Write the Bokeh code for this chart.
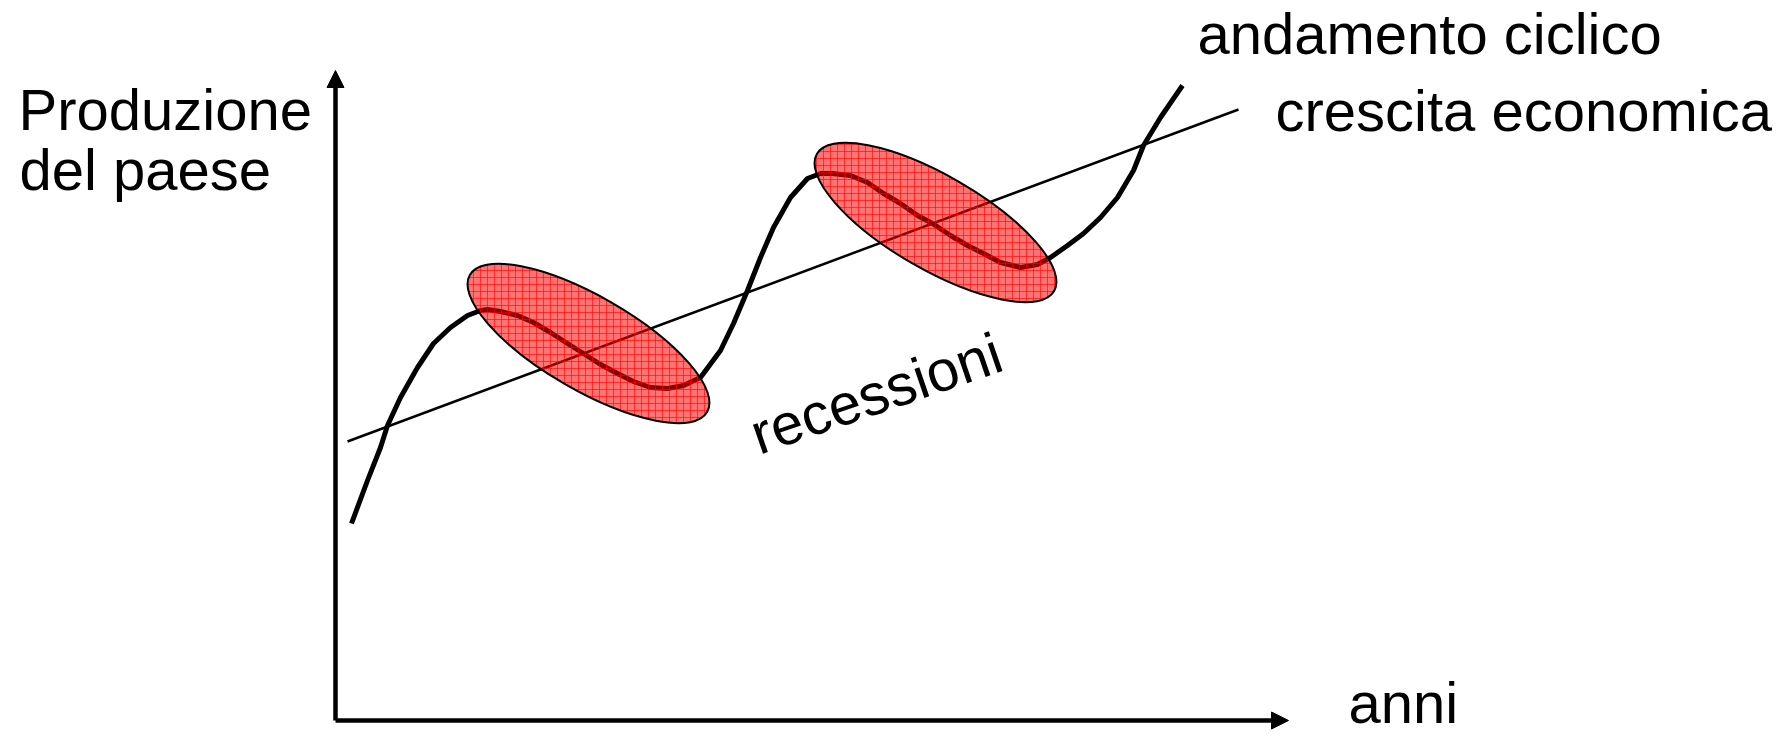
from bokeh.plotting import figure
from bokeh.models import Range1d, Arrow, NormalHead, ColumnDataSource
from bokeh.core.properties import value
from bokeh.embed import file_html
from bokeh.resources import INLINE

# ---- data (x = anni, y = produzione, arbitrary units) ----
ciclo_anni = [1.6, 3.2, 4.5, 5.2, 6.5, 8.2, 9.8, 11.5, 13.2, 14.5, 15.2,
              16.5, 18.2, 19.8, 21.5, 23.2, 24.8, 26.5, 28.2, 29.8, 31.5, 33.2, 34.8, 36.5,
              38.5, 39.8, 41.2, 42.5, 43.8, 45.5, 47.2, 48.5, 49.7,
              51.5, 53.2, 54.8, 56.5, 58.2, 59.7, 61.5, 63.2, 64.8, 66.5, 68.5, 70.2, 71.5,
              73.2, 74.8, 76.5, 78.2, 79.8, 80.8, 82.5, 84.7]
ciclo_prod = [19.7, 24.0, 27.3, 29.5, 32.3, 35.3, 37.7, 39.3, 40.5, 41.0, 41.1,
              40.9, 40.5, 39.8, 38.8, 37.7, 36.7, 35.6, 34.7, 33.9, 33.3, 33.2, 33.5, 34.3,
              37.0, 39.7, 43.0, 46.3, 49.3, 52.3, 54.2, 54.7, 54.7,
              54.5, 53.8, 52.7, 51.7, 50.5, 49.7, 48.5, 47.5, 46.7, 45.8, 45.3, 45.6, 46.3,
              47.5, 48.7, 50.3, 52.3, 55.0, 57.5, 60.3, 63.5]
trend_anni = [1.2, 90.3]
trend_prod = [27.9, 61.1]
recessioni_anni = [25.3, 60.0]
recessioni_prod = [37.7, 49.8]
recessioni_durata = [27.4, 27.4]
recessioni_ampiezza = [9.4, 9.4]

FONT = value("Liberation Sans")

p = figure(width=1776, height=737, output_backend="svg", toolbar_location=None,
           x_range=Range1d(-33.5, 144.1), y_range=Range1d(-1.7, 72.0),
           x_axis_type=None, y_axis_type=None, min_border=0)
p.grid.visible = False
p.outline_line_color = None
p.background_fill_color = "white"
p.border_fill_color = "white"

# axes with arrows
p.add_layout(Arrow(end=NormalHead(size=17, fill_color="black", line_color="black", line_width=1),
                   x_start=0, y_start=0, x_end=0, y_end=65, line_width=4.5, line_color="black"))
p.add_layout(Arrow(end=NormalHead(size=17, fill_color="black", line_color="black", line_width=1),
                   x_start=0, y_start=0, x_end=95.3, y_end=0, line_width=4.5, line_color="black"))

# trend line and cyclic curve
p.line(trend_anni, trend_prod, line_width=2.5, line_color="black")
p.line(ciclo_anni, ciclo_prod, line_width=5, line_color="black",
       line_join="round", line_cap="butt")

# recession ellipses
src = ColumnDataSource(dict(x=recessioni_anni, y=recessioni_prod,
                            w=recessioni_durata, h=recessioni_ampiezza))
p.ellipse(x="x", y="y", width="w", height="h", angle=-30, angle_units="deg", source=src,
          fill_color="#ff0000", fill_alpha=0.55,
          hatch_pattern="+", hatch_color="#ff0000", hatch_scale=7, hatch_weight=1, hatch_alpha=0.6,
          line_color="black", line_width=2)

# texts
common = dict(text_font=FONT, text_font_size="58px", text_color="black",
              text_align="left", text_baseline="alphabetic")
p.text(x=[-31.7, -31.6], y=[61.1, 55.1], text=["Produzione", "del paese"], **common)
p.text(x=[86.2], y=[68.7], text=["andamento ciclico"], **common)
p.text(x=[94.0], y=[61.0], text=["crescita economica"], **common)
p.text(x=[101.3], y=[1.8], text=["anni"], **common)
p.text(x=[41.7], y=[28.5], text=["recessioni"], angle=19, angle_units="deg", **common)

open("out.html", "w").write(file_html(p, INLINE))
